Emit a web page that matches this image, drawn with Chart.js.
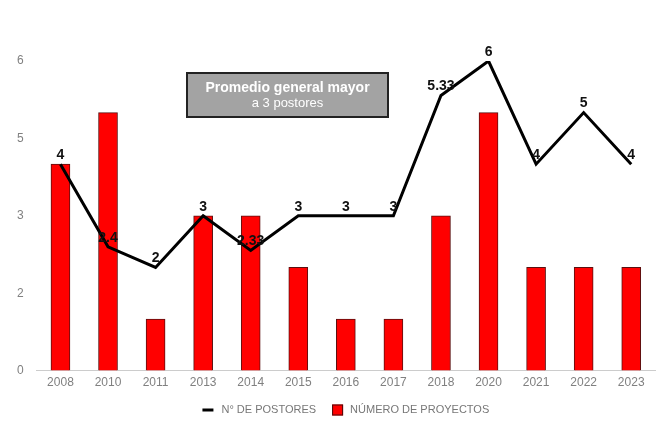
<!DOCTYPE html>
<html>
<head>
<meta charset="utf-8">
<script src="https://cdn.jsdelivr.net/npm/chart.js@4"></script>
<style>
  html, body { margin: 0; padding: 0; background: #ffffff; }
  #wrap { width: 672px; height: 426px; position: relative; }
</style>
</head>
<body>
<div id="wrap"><canvas id="chart"></canvas></div>
<script>
// datos
const years = ['2008','2010','2011','2013','2014','2015','2016','2017','2018','2020','2021','2022','2023'];
const postores = [4, 2.4, 2, 3, 2.33, 3, 3, 3, 5.33, 6, 4, 5, 4];
const proyectos = [4, 5, 1, 3, 3, 2, 1, 1, 3, 5, 2, 2, 2];
const yTicks = [0, 1.5, 3, 4.5, 6];

const FONT = '"Liberation Sans", Arial, sans-serif';

// etiquetas de valor sobre la linea
const lineLabels = {
    id: 'lineLabels',
    afterDatasetsDraw(chart) {
        const ctx = chart.ctx;
        const meta = chart.getDatasetMeta(0);
        ctx.save();
        ctx.font = 'bold 14px ' + FONT;
        ctx.fillStyle = '#111';
        ctx.textAlign = 'center';
        ctx.textBaseline = 'bottom';
        meta.data.forEach((pt, i) => {
            ctx.fillText(String(postores[i]), pt.x, pt.y - 2);
        });
        ctx.restore();
    }
};

// recuadro de nota
const noteBox = {
    id: 'noteBox',
    afterDraw(chart) {
        const ctx = chart.ctx;
        ctx.save();
        ctx.fillStyle = '#a3a3a3';
        ctx.fillRect(187, 73, 201, 44);
        ctx.strokeStyle = '#222';
        ctx.lineWidth = 2;
        ctx.strokeRect(187, 73, 201, 44);
        ctx.fillStyle = '#ffffff';
        ctx.textAlign = 'center';
        ctx.textBaseline = 'middle';
        ctx.font = 'bold 14px ' + FONT;
        ctx.fillText('Promedio general mayor', 287.5, 88);
        ctx.font = '13px ' + FONT;
        ctx.fillText('a 3 postores', 287.5, 103);
        ctx.restore();
    }
};

// leyenda dibujada a mano (centrada bajo el grafico)
const bottomLegend = {
    id: 'bottomLegend',
    afterDraw(chart) {
        const ctx = chart.ctx;
        const ds = chart.data.datasets;
        ctx.save();
        ctx.font = '11px ' + FONT;
        ctx.textBaseline = 'middle';
        const y = 410;
        const w0 = ctx.measureText(ds[0].label).width;
        const w1 = ctx.measureText(ds[1].label).width;
        const total = 11 + 8 + w0 + 16 + 11 + 7 + w1;
        const cx = (chart.chartArea.left + chart.chartArea.right) / 2;
        let x = cx - total / 2;
        ctx.strokeStyle = ds[0].borderColor;
        ctx.lineWidth = 3;
        ctx.beginPath();
        ctx.moveTo(x, y);
        ctx.lineTo(x + 11, y);
        ctx.stroke();
        x += 19;
        ctx.fillStyle = '#777';
        ctx.fillText(ds[0].label, x, y);
        x += w0 + 16;
        ctx.fillStyle = ds[1].backgroundColor;
        ctx.fillRect(x, y - 5.5, 11, 11);
        ctx.strokeStyle = '#4a0a0a';
        ctx.lineWidth = 1;
        ctx.strokeRect(x + 0.5, y - 5, 10, 10);
        x += 18;
        ctx.fillStyle = '#777';
        ctx.fillText(ds[1].label, x, y);
        ctx.restore();
    }
};

new Chart(document.getElementById('chart'), {
    type: 'bar',
    data: {
        labels: years,
        datasets: [{
            type: 'line',
            label: 'N° DE POSTORES',
            data: postores,
            borderColor: '#000000',
            backgroundColor: '#000000',
            borderWidth: 3,
            pointRadius: 0,
            tension: 0,
            order: 0
        }, {
            type: 'bar',
            label: 'NÚMERO DE PROYECTOS',
            data: proyectos,
            backgroundColor: '#ff0000',
            borderColor: '#5a1010',
            borderWidth: 1,
            barThickness: 19,
            order: 1
        }]
    },
    options: {
        responsive: true,
        maintainAspectRatio: false,
        animation: false,
        layout: { padding: { top: 61, left: 4, right: 17, bottom: 31 } },
        plugins: {
            legend: { display: false },
            tooltip: { enabled: false }
        },
        scales: {
            x: {
                grid: { display: false, drawTicks: false },
                border: { color: '#cccccc', width: 1 },
                ticks: {
                    color: '#808080',
                    padding: 5,
                    font: { family: FONT, size: 12 }
                }
            },
            y: {
                min: 0,
                max: 6,
                afterBuildTicks(axis) {
                    axis.ticks = yTicks.map(v => ({ value: v }));
                },
                grid: { display: false, drawTicks: false },
                border: { display: false },
                ticks: {
                    color: '#808080',
                    padding: 13,
                    font: { family: FONT, size: 12 },
                    callback: v => Math.round(v).toString()
                }
            }
        }
    },
    plugins: [lineLabels, noteBox, bottomLegend]
});
</script>
</body>
</html>
